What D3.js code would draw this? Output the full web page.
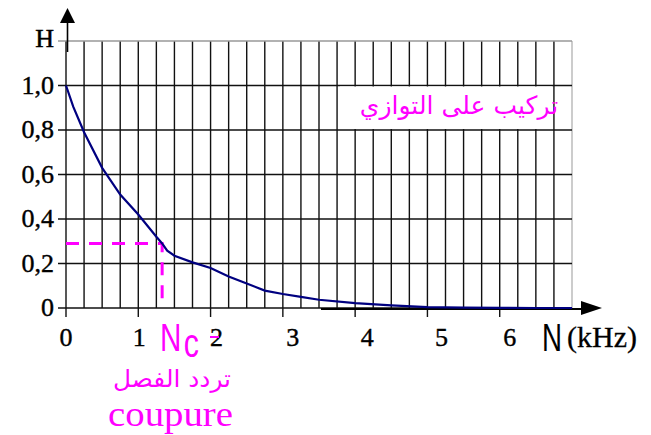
<!DOCTYPE html>
<html>
<head>
<meta charset="utf-8">
<script src="https://cdn.jsdelivr.net/npm/d3@7"></script>
<style>
  body { margin: 0; background: #fff; }
  svg { display: block; }
</style>
</head>
<body>
<div class="chart"></div>
<script>
// frequency N (kHz) and gain H
const freq = [0, 0.1, 0.25, 0.5, 0.75, 1.0, 1.25, 1.33, 1.4, 1.5, 1.75, 2.0, 2.25, 2.5, 2.75, 3.0, 3.25, 3.5, 4.0, 4.5, 5.0, 5.5, 6.0, 6.5, 7.0];
const gain = [1.0, 0.905, 0.79, 0.63, 0.51, 0.42, 0.32, 0.29, 0.258, 0.235, 0.205, 0.18, 0.142, 0.11, 0.078, 0.063, 0.05, 0.037, 0.022, 0.012, 0.004, 0.002, 0.001, 0, 0];
const xTicks = [0, 1, 2, 3, 4, 5, 6];
const xTickShift = [0, 1, 6, 10, 12, 14, 10];
const yTicks = [0, 0.2, 0.4, 0.6, 0.8, 1.0];
const yTickLabels = ["0", "0,2", "0,4", "0,6", "0,8", "1,0"];
const cutoff = { n: 1.33, h: 0.29 };

const width = 651, height = 435;
const dim = { left: 66, right: 572, top: 41, bottom: 308 };

const svg = d3.select(".chart").append("svg")
  .attr("width", width)
  .attr("height", height);

const x = d3.scaleLinear().domain([0, 7]).range([dim.left, dim.right]);
const y = d3.scaleLinear().domain([0, 1.2]).range([dim.bottom, dim.top]);

const grid = svg.append("g");

// vertical grid every 0.25 kHz
const vLines = d3.range(0, 29).map(i => i * 0.25);
grid.selectAll("line.v")
  .data(vLines)
  .enter().append("line")
  .attr("x1", d => x(d)).attr("x2", d => x(d))
  .attr("y1", y(1.2)).attr("y2", y(0))
  .attr("stroke", (d, i) => i == 28 ? "#999" : "#111")
  .attr("stroke-width", (d, i) => i == 28 ? 1 : 1.4);

// horizontal grid every 0.2, extended a bit left as ticks
const hLines = d3.range(0, 7).map(i => i * 0.2);
grid.selectAll("line.h")
  .data(hLines)
  .enter().append("line")
  .attr("x1", x(0) - 8).attr("x2", x(7))
  .attr("y1", d => y(d)).attr("y2", d => y(d))
  .attr("stroke", (d, i) => i == 6 ? "#999" : "#111")
  .attr("stroke-width", (d, i) => i == 6 ? 1.5 : 1.4);

// x ticks below axis
grid.selectAll("line.xt")
  .data(xTicks)
  .enter().append("line")
  .attr("x1", d => x(d)).attr("x2", d => x(d))
  .attr("y1", y(0)).attr("y2", y(0) + 9)
  .attr("stroke", "#111").attr("stroke-width", 1.4);

// white band behind the title
svg.append("rect")
  .attr("x", 340).attr("y", y(1.0) + 1)
  .attr("width", 212).attr("height", y(0.8) - y(1.0) - 2)
  .attr("fill", "#fff");

// axes with arrows
svg.append("line")
  .attr("x1", 321).attr("x2", 584)
  .attr("y1", y(0) + 1).attr("y2", y(0) + 1)
  .attr("stroke", "#000").attr("stroke-width", 2);
svg.append("path")
  .attr("d", `M602,${y(0)} L581,${y(0) - 7} L581,${y(0) + 7} Z`)
  .attr("fill", "#000");

svg.append("line")
  .attr("x1", x(0) + 1.5).attr("x2", x(0) + 1.5)
  .attr("y1", 20).attr("y2", 52)
  .attr("stroke", "#000").attr("stroke-width", 1.6);
svg.append("path")
  .attr("d", `M${x(0) + 1.5},8 L${x(0) - 6},23 L${x(0) + 9},23 Z`)
  .attr("fill", "#000");

// tick labels
const serif = "'Liberation Serif', 'Times New Roman', serif";
const sans = "'Liberation Sans', Arial, sans-serif";
svg.append("g").selectAll("text")
  .data(xTicks)
  .enter().append("text")
  .attr("x", (d, i) => x(d) + xTickShift[i])
  .attr("y", 346)
  .attr("text-anchor", "middle")
  .attr("font-family", serif)
  .attr("font-size", 26)
  .attr("stroke", "#000").attr("stroke-width", 0.4)
  .text(d => d);

svg.append("g").selectAll("text")
  .data(yTicks)
  .enter().append("text")
  .attr("x", 54)
  .attr("y", d => y(d) + 8)
  .attr("text-anchor", "end")
  .attr("font-family", serif)
  .attr("font-size", 26)
  .attr("stroke", "#000").attr("stroke-width", 0.4)
  .text((d, i) => yTickLabels[i]);

svg.append("text")
  .attr("x", 54).attr("y", 47)
  .attr("text-anchor", "end")
  .attr("font-family", serif)
  .attr("font-size", 26)
  .attr("stroke", "#000").attr("stroke-width", 0.5)
  .text("H");

svg.append("text")
  .attr("x", 542).attr("y", 351)
  .attr("font-family", sans)
  .attr("font-size", 39)
  .attr("textLength", 20)
  .attr("lengthAdjust", "spacingAndGlyphs")
  .text("N");
svg.append("text")
  .attr("x", 567).attr("y", 347)
  .attr("font-family", serif)
  .attr("font-size", 30)
  .attr("textLength", 70)
  .attr("lengthAdjust", "spacingAndGlyphs")
  .attr("stroke", "#000").attr("stroke-width", 0.3)
  .text("(kHz)");

// cutoff guides
const magenta = "#ff00ff";
svg.append("path")
  .attr("d", `M${x(0)},${y(cutoff.h)} H${x(cutoff.n)} V${y(0)}`)
  .attr("fill", "none")
  .attr("stroke", magenta)
  .attr("stroke-width", 3)
  .attr("stroke-dasharray", "13,10");

// curve
const line = d3.line()
  .x((d, i) => x(d))
  .y((d, i) => y(gain[i]));

svg.append("path")
  .datum(freq)
  .attr("d", line)
  .attr("fill", "none")
  .attr("stroke", "#000080")
  .attr("stroke-width", 2.2);

// Nc label, narrowed horizontally
const nc = svg.append("text")
  .attr("transform", "translate(160,351) scale(0.76,1)")
  .attr("font-family", sans)
  .attr("fill", magenta);
nc.append("tspan").attr("font-size", 39).text("N");
nc.append("tspan").attr("font-size", 40).attr("dx", 3).attr("dy", 6).text("c");

svg.append("line")
  .attr("x1", 210).attr("x2", 219)
  .attr("y1", 337).attr("y2", 337)
  .attr("stroke", magenta).attr("stroke-width", 2);

svg.append("text")
  .attr("x", 172).attr("y", 387)
  .attr("text-anchor", "middle")
  .attr("font-family", "'DejaVu Sans', sans-serif")
  .attr("font-size", 24)
  .attr("textLength", 118)
  .attr("lengthAdjust", "spacingAndGlyphs")
  .attr("fill", magenta)
  .text("تردد الفصل");

svg.append("text")
  .attr("x", 108).attr("y", 426)
  .attr("font-family", serif)
  .attr("font-size", 36)
  .attr("textLength", 125)
  .attr("lengthAdjust", "spacingAndGlyphs")
  .attr("fill", magenta)
  .text("coupure");

// title in the grid
svg.append("text")
  .attr("x", 459).attr("y", 114)
  .attr("text-anchor", "middle")
  .attr("font-family", "'DejaVu Sans', sans-serif")
  .attr("font-size", 25)
  .attr("fill", magenta)
  .text("تركيب على التوازي");
</script>
</body>
</html>
